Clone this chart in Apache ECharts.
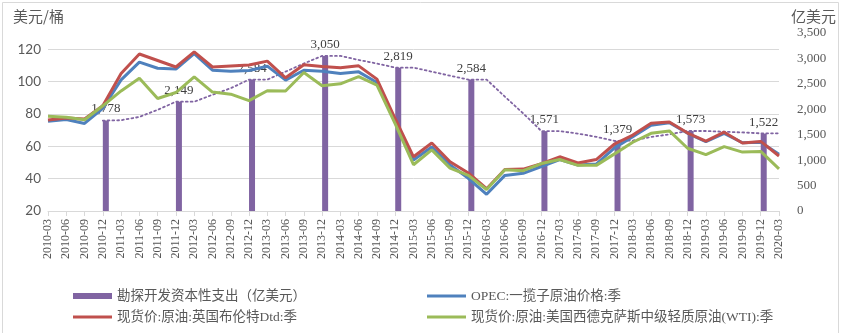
<!DOCTYPE html>
<html>
<head>
<meta charset="utf-8">
<script src="https://cdn.jsdelivr.net/npm/echarts@6/dist/echarts.min.js"></script>
<style>html,body{margin:0;padding:0;background:#fff;}#c{width:844px;height:333px;}</style>
</head>
<body>
<div id="c"></div>
<script>
const categories = ['2010-03','2010-06','2010-09','2010-12','2011-03','2011-06','2011-09','2011-12',
  '2012-03','2012-06','2012-09','2012-12','2013-03','2013-06','2013-09','2013-12',
  '2014-03','2014-06','2014-09','2014-12','2015-03','2015-06','2015-09','2015-12',
  '2016-03','2016-06','2016-09','2016-12','2017-03','2017-06','2017-09','2017-12',
  '2018-03','2018-06','2018-09','2018-12','2019-03','2019-06','2019-09','2019-12','2020-03'];

const capexQuarters = ['2010-12','2011-12','2012-12','2013-12','2014-12','2015-12','2016-12','2017-12','2018-12','2019-12'];
const capexValues = [1778, 2149, 2584, 3050, 2819, 2584, 1571, 1379, 1573, 1522];

const capexTrend = [null, null, null, 1778, 1785, 1850, 1990, 2149,
  2149, 2285, 2415, 2584, 2584, 2740, 2900, 3050,
  3050, 2970, 2900, 2819, 2819, 2740, 2660, 2584,
  2584, 2250, 1920, 1571, 1571, 1522, 1458, 1379,
  1385, 1455, 1508, 1573, 1573, 1559, 1545, 1527, 1527];

const opecPrice = [75.4, 76.6, 74.1, 83.5, 101, 112, 108.2, 107.7,
  117.3, 107, 106.4, 106.8, 109.5, 100.9, 107, 106.4,
  105, 106, 99.4, 75, 51.5, 59.5, 48.5, 40.2,
  30.3, 42, 43.3, 47.5, 51.8, 48.4, 49, 59,
  65.9, 73, 74.6, 68, 62.8, 68, 62.2, 62.5, 55];

const brentPrice = [76.2, 77.5, 76.8, 85, 105, 117, 113, 109,
  118.3, 109, 109.6, 110.2, 112.6, 102.3, 110.4, 109.3,
  108.5, 109.7, 101.5, 77, 53.5, 62, 50.4, 43.5,
  33.8, 45.6, 45.9, 49.2, 53.5, 49.7, 51.8, 61.4,
  66.9, 74.3, 75, 68.2, 63.2, 68.7, 62, 63, 54];

const wtiPrice = [78.6, 78, 76.4, 85, 94.2, 102, 89.5, 93.2,
  102.9, 93.5, 92.2, 88.2, 94.3, 94.2, 105.6, 97.4,
  98.6, 103, 97.8, 73.8, 48.6, 57.8, 46.5, 42,
  33.3, 45.5, 44.9, 49.3, 51.8, 48.2, 48.2, 55.3,
  62.5, 68, 69.5, 58.8, 54.8, 59.8, 56.4, 56.8, 46];

const leftTicks = [20, 40, 60, 80, 100, 120];
const rightTicks = [0, 500, 1000, 1500, 2000, 2500, 3000, 3500];

const NAME_CAPEX = '勘探开发资本性支出（亿美元）';
const NAME_OPEC = 'OPEC:一揽子原油价格:季';
const NAME_BRENT = '现货价:原油:英国布伦特Dtd:季';
const NAME_WTI = '现货价:原油:美国西德克萨斯中级轻质原油(WTI):季';

const capexSeriesData = categories.map(c => {
  const k = capexQuarters.indexOf(c);
  return k >= 0 ? capexValues[k] : '-';
});
const padData = categories.map(() => '-');

const SERIF = "'Liberation Serif', 'Noto Sans CJK SC', serif";
const GREY = '#595959';

function legendItem(name, left, top, iconH) {
  return {
    orient: 'horizontal', left: left, top: top, itemWidth: 39, itemHeight: iconH, icon: 'rect',
    selectedMode: false, padding: 0,
    textStyle: { fontSize: 13.5, color: GREY, fontFamily: SERIF, lineHeight: 14 },
    data: [{ name: name }]
  };
}

const chart = echarts.init(document.getElementById('c'), null, {renderer: 'canvas'});
chart.setOption({
  animation: false,
  backgroundColor: '#ffffff',
  grid: { left: 48, right: 65, top: 33, bottom: 122, containLabel: false },
  graphic: [
    { type: 'rect', z: -10, shape: { x: 2.5, y: 2.5, width: 836, height: 345 },
      style: { fill: 'none', stroke: '#d9d9d9', lineWidth: 1 }, silent: true },
    { type: 'text', left: 13, top: 9,
      style: { text: '美元/桶', font: "15px 'Noto Sans CJK SC'", fill: GREY } },
    { type: 'text', left: 791, top: 9,
      style: { text: '亿美元', font: "15px 'Noto Sans CJK SC'", fill: GREY } }
  ],
  legend: [
    legendItem(NAME_CAPEX, 73, 289, 6),
    legendItem(NAME_BRENT, 73, 310, 3),
    legendItem(NAME_OPEC, 427, 289, 3),
    legendItem(NAME_WTI, 427, 310, 3)
  ],
  xAxis: {
    type: 'category', data: categories, boundaryGap: false,
    axisLine: { lineStyle: { color: '#d9d9d9' } },
    axisTick: { show: true, interval: 0, length: 5, lineStyle: { color: '#d9d9d9' } },
    axisLabel: { interval: 0, rotate: 90, margin: 8, fontSize: 12, color: '#555555', fontFamily: SERIF },
    splitLine: { show: false }
  },
  yAxis: [
    { type: 'value', min: leftTicks[0], max: 130, interval: leftTicks[1] - leftTicks[0],
      axisLine: { show: false }, axisTick: { show: false },
      axisLabel: { showMaxLabel: false, margin: 7, fontSize: 13.5, color: GREY, fontFamily: "Lato, 'Liberation Sans', sans-serif" },
      splitLine: { show: true, showMaxLine: false, showMinLine: false, lineStyle: { color: '#d9d9d9', width: 1 } } },
    { type: 'value', min: rightTicks[0], max: rightTicks[rightTicks.length - 1], interval: rightTicks[1] - rightTicks[0],
      position: 'right',
      axisLine: { show: false }, axisTick: { show: false },
      axisLabel: { margin: 18, fontSize: 13, color: GREY, fontFamily: SERIF,
        formatter: v => v.toLocaleString('en-US') },
      splitLine: { show: false } }
  ],
  series: [
    { name: '_pad', type: 'bar', yAxisIndex: 1, data: padData, barWidth: 6, barGap: '0%', silent: true, z: 1 },
    { name: NAME_CAPEX, type: 'bar', yAxisIndex: 1, data: capexSeriesData, barWidth: 6, barGap: '0%', z: 1,
      itemStyle: { color: '#8064a2' },
      label: { show: true, position: 'top', distance: 5, fontSize: 13, color: '#404040', fontFamily: SERIF,
        formatter: p => Number(p.value).toLocaleString('en-US') } },
    { name: 'trend', type: 'line', yAxisIndex: 1, data: capexTrend, symbol: 'none', z: 3,
      lineStyle: { color: '#8064a2', width: 1.8, type: [1.8, 3], cap: 'round' }, itemStyle: { color: '#8064a2' } },
    { name: NAME_OPEC, type: 'line', data: opecPrice, symbol: 'none', z: 4,
      lineStyle: { color: '#4f81bd', width: 3 }, itemStyle: { color: '#4f81bd' } },
    { name: NAME_BRENT, type: 'line', data: brentPrice, symbol: 'none', z: 5,
      lineStyle: { color: '#c0504d', width: 3 }, itemStyle: { color: '#c0504d' } },
    { name: NAME_WTI, type: 'line', data: wtiPrice, symbol: 'none', z: 6,
      lineStyle: { color: '#9bbb59', width: 3 }, itemStyle: { color: '#9bbb59' } }
  ]
});
</script>
</body>
</html>
